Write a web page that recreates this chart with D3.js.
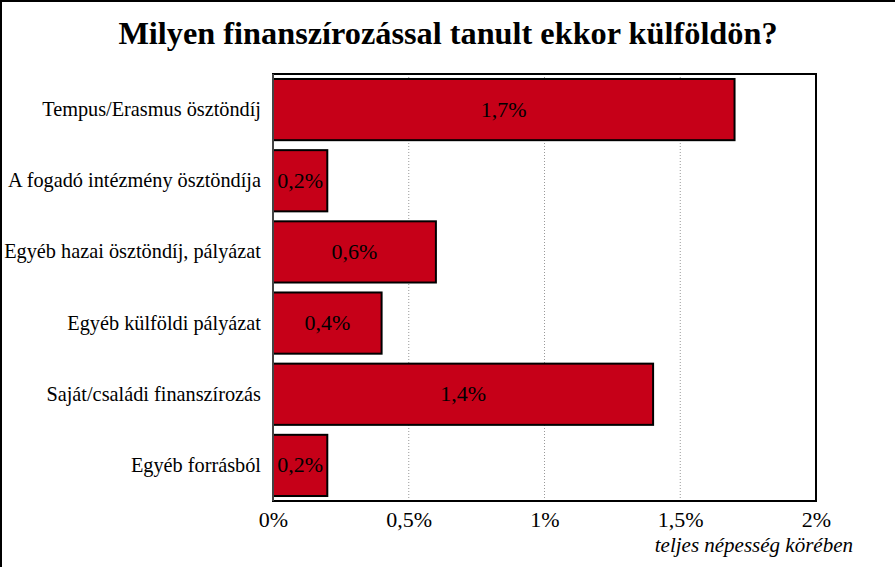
<!DOCTYPE html>
<html><head><meta charset="utf-8">
<script src="https://cdn.jsdelivr.net/npm/d3@7"></script>
<style>body{margin:0;background:#fff}svg{display:block}text{font-family:"Liberation Serif","Times New Roman",serif}</style>
</head><body>
<svg id="c" width="895" height="567"></svg>
<script>
const title = "Milyen finanszírozással tanult ekkor külföldön?";
const categories = ["Tempus/Erasmus ösztöndíj","A fogadó intézmény ösztöndíja","Egyéb hazai ösztöndíj, pályázat","Egyéb külföldi pályázat","Saját/családi finanszírozás","Egyéb forrásból"];
const values = [1.7, 0.2, 0.6, 0.4, 1.4, 0.2];
const valueLabels = ["1,7%","0,2%","0,6%","0,4%","1,4%","0,2%"];
const tickValues = [0, 0.5, 1, 1.5, 2];
const tickLabels = ["0%","0,5%","1%","1,5%","2%"];
const axisTitle = "teljes népesség körében";

const svg = d3.select("#c");
const W = 895, H = 567;
const m = {left:273, top:74, right:816, bottom:501};
const serif = "Liberation Serif";

svg.append("rect").attr("x",1).attr("y",1).attr("width",W+10).attr("height",H+10)
  .attr("fill","#fff").attr("stroke","#000").attr("stroke-width",2);

svg.append("text").attr("x",448).attr("y",44).attr("text-anchor","middle")
  .attr("font-size",32.3).attr("font-weight","bold").text(title);

const x = d3.scaleLinear().domain([0,2]).range([m.left,m.right]);
const y = d3.scaleBand().domain(categories).range([m.top,m.bottom]).paddingInner(0.14).paddingOuter(0.07);

// grid
svg.append("g").selectAll("line").data(tickValues.filter(v=>v>0&&v<2)).join("line")
  .attr("x1",d=>x(d)).attr("x2",d=>x(d)).attr("y1",m.top).attr("y2",m.bottom)
  .attr("stroke","#999").attr("stroke-dasharray","1,2").attr("stroke-width",1);

// plot frame
svg.append("rect").attr("x",m.left).attr("y",m.top).attr("width",m.right-m.left).attr("height",m.bottom-m.top)
  .attr("fill","none").attr("stroke","#000").attr("stroke-width",2);

// bars
svg.append("g").selectAll("rect").data(values).join("rect")
  .attr("x",x(0)).attr("y",(d,i)=>y(categories[i]))
  .attr("width",d=>x(d)-x(0)).attr("height",y.bandwidth())
  .attr("fill","#C60018").attr("stroke","#000").attr("stroke-width",2);

// left axis line
svg.append("line").attr("x1",m.left).attr("x2",m.left).attr("y1",m.top).attr("y2",m.bottom)
  .attr("stroke","#444").attr("stroke-width",2);

// value labels
svg.append("g").selectAll("text").data(values).join("text")
  .attr("x",d=>(x(0)+x(d))/2).attr("y",(d,i)=>y(categories[i])+y.bandwidth()/2+7)
  .attr("text-anchor","middle").attr("font-size",22).text((d,i)=>valueLabels[i]);

// category labels
const ya = d3.axisLeft(y).tickSize(0).tickPadding(12);
const gy = svg.append("g").attr("transform",`translate(${m.left},0)`).call(ya);
gy.select(".domain").remove();
gy.selectAll("text").attr("font-size",20.3).attr("font-family",serif).attr("fill","#000");

// x ticks
const xa = d3.axisBottom(x).tickValues(tickValues).tickFormat((d,i)=>tickLabels[i]).tickSize(0).tickPadding(10);
const gx = svg.append("g").attr("transform",`translate(0,${m.bottom})`).call(xa);
gx.select(".domain").remove();
gx.selectAll("text").attr("font-size",22).attr("font-family",serif).attr("fill","#000");

svg.append("text").attr("x",853).attr("y",552).attr("text-anchor","end")
  .attr("font-size",21).attr("font-style","italic").text(axisTitle);
</script>
</body></html>
